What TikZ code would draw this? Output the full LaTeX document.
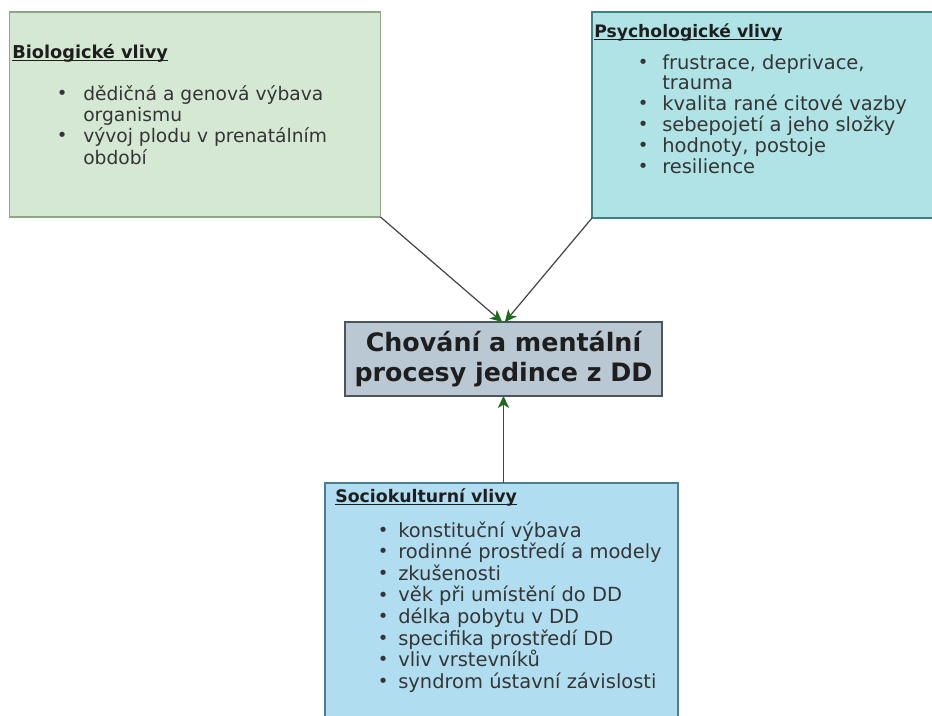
\documentclass[tikz,border=0pt]{standalone}
\usepackage{fontspec}
\setmainfont{DejaVu Sans}
\usetikzlibrary{arrows.meta}

\definecolor{bioFill}{HTML}{D5E8D4}
\definecolor{bioLine}{HTML}{8AA882}
\definecolor{psyFill}{HTML}{B0E3E6}
\definecolor{psyLine}{HTML}{3F7F85}
\definecolor{midFill}{HTML}{BAC8D3}
\definecolor{midLine}{HTML}{4A5560}
\definecolor{socFill}{HTML}{B1DDF0}
\definecolor{socLine}{HTML}{4A7D96}
\definecolor{itemText}{HTML}{353535}
\definecolor{headText}{HTML}{1E1E1E}
\definecolor{connLine}{HTML}{3F463F}
\definecolor{connHead}{HTML}{1B6B1B}

% underlined heading: the rule crosses the descenders
\newcommand\hdr[1]{\setbox0\hbox{#1}\rlap{\rule[-2.2pt]{\wd0}{0.9pt}}\box0}
% bullet dot
\newcommand\dotmark{\raisebox{0.6pt}{\fontsize{13.5}{13.5}\selectfont\textbullet}}
% bullet item and continuation line; #1 = bullet column width
\newcommand\bitem[2]{\hbox{\hbox to #1{\hss\dotmark\hss}#2}}
\newcommand\bcont[2]{\hbox{\kern#1#2}}

\tikzset{
  box/.style={draw, rectangle, line width=1pt, inner sep=0pt, outer sep=0pt},
  head/.style={anchor=base west, inner sep=0pt, text=headText},
  list/.style={anchor=base west, inner sep=0pt, text=itemText},
  conn/.style={draw=connLine, line width=0.9pt,
    -{Stealth[length=9pt, width=8.5pt, inset=2.5pt, color=connHead, fill=connHead]}},
}

\begin{document}
\begin{tikzpicture}[x=0.75pt, y=-0.75pt]
\useasboundingbox (0,0) rectangle (932,715);
\fill[white] (0,0) rectangle (932,715);

% the four boxes
\node[box, draw=bioLine, fill=bioFill, minimum width=278.25pt, minimum height=153.75pt]
  (bio) at (195,114.5) {};
\node[box, draw=psyLine, fill=psyFill, minimum width=264.75pt, minimum height=154.5pt]
  (psy) at (768.5,115) {};
\node[box, draw=socLine, fill=socFill, minimum width=264.75pt, minimum height=181.5pt]
  (soc) at (501.5,604) {};
\node[box, draw=midLine, fill=midFill, minimum width=237.75pt, minimum height=55.5pt,
  align=center, font=\bfseries\fontsize{19}{22.5}\selectfont, text=headText]
  (mid) at (503.5,359) {Chování a mentální\\procesy jedince z DD};

% biological influences
\node[head, font=\bfseries\fontsize{13.3}{15}\selectfont] (bioHead) at (12,58)
  {\hdr{Biologické vlivy}};
\node[list, font=\fontsize{14}{16}\selectfont] (bioList) at (41,100)
  {\vtop{\baselineskip=16pt
    \bitem{31.5pt}{dědičná a genová výbava}
    \bcont{31.5pt}{organismu}
    \bitem{31.5pt}{vývoj plodu v prenatálním}
    \bcont{31.5pt}{období}}};

% psychological influences
\node[head, font=\bfseries\fontsize{12.9}{15}\selectfont] (psyHead) at (594,37)
  {\hdr{Psychologické vlivy}};
\node[list, font=\fontsize{14.6}{16}\selectfont] (psyList) at (624,69)
  {\vtop{\baselineskip=15.6pt
    \bitem{28.5pt}{frustrace, deprivace,}
    \bcont{28.5pt}{trauma}
    \bitem{28.5pt}{kvalita rané citové vazby}
    \bitem{28.5pt}{sebepojetí a jeho složky}
    \bitem{28.5pt}{hodnoty, postoje}
    \bitem{28.5pt}{resilience}}};

% sociocultural influences
\node[head, font=\bfseries\fontsize{13}{15}\selectfont] (socHead) at (335,502)
  {\hdr{Sociokulturní vlivy}};
\node[list, font=\fontsize{14.6}{16}\selectfont] (socList) at (368,537)
  {\vtop{\baselineskip=16.2pt
    \bitem{22.5pt}{konstituční výbava}
    \bitem{22.5pt}{rodinné prostředí a modely}
    \bitem{22.5pt}{zkušenosti}
    \bitem{22.5pt}{věk při umístění do DD}
    \bitem{22.5pt}{délka pobytu v DD}
    \bitem{22.5pt}{specifika prostředí DD}
    \bitem{22.5pt}{vliv vrstevníků}
    \bitem{22.5pt}{syndrom ústavní závislosti}}};

% connectors
\draw[conn] (bio.south east) -- ([xshift=-1pt]mid.north);
\draw[conn] (psy.south west) -- ([xshift=1pt]mid.north);
\draw[conn] (mid.south |- soc.north) -- (mid.south);
\end{tikzpicture}
\end{document}
